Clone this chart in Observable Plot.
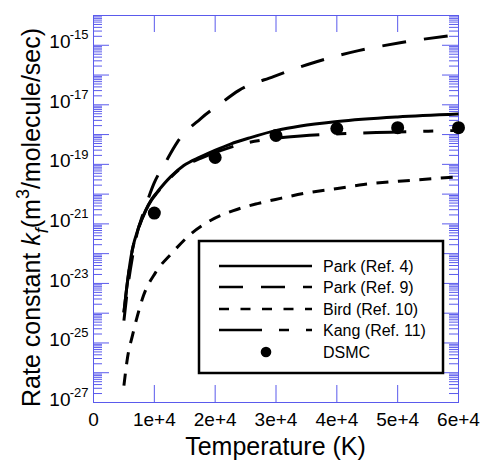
<!DOCTYPE html>
<html><head><meta charset="utf-8">
<script src="https://cdn.jsdelivr.net/npm/d3@7"></script>
<script src="https://cdn.jsdelivr.net/npm/@observablehq/plot@0.6"></script>
<style>
body{margin:0;background:#fff}
svg{font-family:"Liberation Sans",Arial,sans-serif}
</style>
</head><body><div id="chart"></div>
<script>
// ---- data ----
const parkRef4 = [[5000,1.07e-24],[5540,9.8e-24],[6360,1.29e-22],[7450,7.8e-22],[8550,2.8e-21],[9530,6.6e-21],[10470,1.17e-20],[12660,3.8e-20],[14840,9.1e-20],[17590,1.78e-19],[20050,3.0e-19],[22520,4.8e-19],[25810,7.9e-19],[30250,1.41e-18],[34030,1.95e-18],[40110,2.75e-18],[49970,3.9e-18],[60000,4.9e-18]];
const parkRef9 = [[5000,5.6e-25],[5590,6.3e-24],[6410,7.9e-23],[7230,5.5e-22],[8060,1.9e-21],[8880,6.0e-21],[9910,2.2e-20],[11840,1.17e-19],[13760,5.5e-19],[17590,3.4e-18],[20880,1.1e-17],[23840,3.0e-17],[29590,8.9e-17],[36660,2.8e-16],[43560,6.6e-16],[50630,1.23e-15],[60000,2.3e-15]];
const birdRef10 = [[5000,3.7e-27],[5590,3.2e-26],[6410,1.8e-25],[7230,8.3e-25],[8220,3.9e-24],[10190,2.3e-23],[12990,1.1e-22],[15950,4.5e-22],[19230,1.3e-21],[23010,2.8e-21],[26960,4.8e-21],[30740,7.2e-21],[34520,1.05e-20],[40110,1.55e-20],[44390,2.1e-20],[52110,2.9e-20],[60000,3.8e-20]];
const kangRef11 = [[5000,1.07e-24],[5540,9.5e-24],[6360,1.25e-22],[7450,7.5e-22],[8550,2.7e-21],[9530,6.3e-21],[10470,1.12e-20],[12660,3.6e-20],[14840,8.7e-20],[17590,1.58e-19],[20880,2.9e-19],[24160,4.7e-19],[29100,7.1e-19],[34030,8.9e-19],[40600,1.07e-18],[48820,1.2e-18],[60000,1.38e-18]];
const dsmcT = [10000,20000,30000,40000,50000,60000];
const dsmcK = [2.3e-21,1.7e-19,9.3e-19,1.6e-18,1.7e-18,1.7e-18];

const seriesNames = ["Park (Ref. 4)","Park (Ref. 9)","Bird (Ref. 10)","Kang (Ref. 11)","DSMC"];
const xTickValues = [10000,20000,30000,40000,50000];
const xTickLabels = ["0","1e+4","2e+4","3e+4","4e+4","5e+4","6e+4"];
const xLabelValues = [0,10000,20000,30000,40000,50000,60000];
const yDecadeExps = [-27,-26,-25,-24,-23,-22,-21,-20,-19,-18,-17,-16,-15,-14];
const yLabelExps = [-27,-25,-23,-21,-19,-17,-15];
const minorMultipliers = [2,3,4,5,6,7,8,9];
const xTitle = "Temperature (K)";

// ---- layout ----
const W = 488, H = 463, mL = 93, mR = 30, mT = 15, mB = 61;
const plotW = W - mL - mR, plotH = H - mT - mB;
const blue = "#5a5aec";
const font = "Liberation Sans, Arial, sans-serif";

const majorY = yDecadeExps.map(e => 10 ** e);
const minorY = yDecadeExps.slice(0, -1).flatMap(e => minorMultipliers.map(m => m * 10 ** e));
const toRows = (arr) => arr.map(([T, k]) => ({T, k}));
const dsmc = dsmcT.map((T, i) => ({T, k: dsmcK[i]}));

const lineOpts = {x: "T", y: "k", stroke: "black", strokeWidth: 3, curve: "monotone-x", strokeLinecap: "butt"};

const chart = Plot.plot({
  width: W, height: H,
  marginLeft: mL, marginRight: mR, marginTop: mT, marginBottom: mB,
  style: {fontFamily: font, background: "white"},
  x: {domain: [0, 60000], axis: null},
  y: {type: "log", domain: [1e-27, 1e-14], axis: null},
  marks: [
    Plot.tickX(xTickValues, {x: d => d, stroke: blue, strokeWidth: 1, insetTop: plotH - 17}),
    Plot.tickX(xTickValues, {x: d => d, stroke: blue, strokeWidth: 1, insetBottom: plotH - 17}),
    Plot.tickY(majorY, {y: d => d, stroke: blue, strokeWidth: 1, insetRight: plotW - 16}),
    Plot.tickY(majorY, {y: d => d, stroke: blue, strokeWidth: 1, insetLeft: plotW - 16}),
    Plot.tickY(minorY, {y: d => d, stroke: blue, strokeWidth: 1, insetRight: plotW - 9}),
    Plot.tickY(minorY, {y: d => d, stroke: blue, strokeWidth: 1, insetLeft: plotW - 9}),
    Plot.frame({stroke: blue, strokeWidth: 1}),
    Plot.text(xLabelValues, {x: d => d, frameAnchor: "bottom", dy: 23, text: (d, i) => xTickLabels[i], fontSize: 19, fill: "black"}),
    Plot.text(yLabelExps, {y: e => 10 ** e, frameAnchor: "left", dx: -23, dy: -3, textAnchor: "end", text: () => "10", fontSize: 19, fill: "black"}),
    Plot.text(yLabelExps, {y: e => 10 ** e, frameAnchor: "left", dx: -5, dy: -10, textAnchor: "end", text: e => String(e), fontSize: 13, fill: "black"}),
    Plot.line(toRows(birdRef10), {...lineOpts, strokeDasharray: "12,9.5"}),
    Plot.line(toRows(parkRef9), {...lineOpts, strokeDasharray: "24,18"}),
    Plot.line(toRows(kangRef11), {...lineOpts, strokeDasharray: "43,17,10,17"}),
    Plot.line(toRows(parkRef4), {...lineOpts}),
    Plot.dot(dsmc, {x: "T", y: "k", r: 6.5, fill: "black", stroke: "none"})
  ]
});
document.getElementById("chart").appendChild(chart);

const svg = d3.select(chart);
svg.append("text").attr("x", mL + plotW / 2).attr("y", 455).attr("text-anchor", "middle")
  .attr("font-size", 25).attr("font-family", font).attr("fill", "black").text(xTitle);
const yt = svg.append("text").attr("transform", `translate(40,407) rotate(-90)`)
  .attr("text-anchor", "start")
  .attr("font-size", 25).attr("font-family", font).attr("fill", "black");
yt.append("tspan").text("Rate constant ");
yt.append("tspan").attr("font-style", "italic").text("k");
yt.append("tspan").attr("font-style", "italic").attr("font-size", 18).attr("dy", 8).text("f");
yt.append("tspan").attr("dy", -8).text("(m");
yt.append("tspan").attr("font-size", 18).attr("dy", -11).text("3");
yt.append("tspan").attr("dy", 11).text("/molecule/sec)");

const leg = svg.append("g");
leg.append("rect").attr("x", 199).attr("y", 241).attr("width", 244).attr("height", 132)
  .attr("fill", "white").attr("stroke", "black").attr("stroke-width", 2.5);
const legDash = [null, "24,18", "10,11.5", "43,17,10,17"];
const rowY = [266, 287, 309, 330, 352];
seriesNames.forEach((name, i) => {
  if (i < 4) {
    const l = leg.append("line").attr("x1", 219).attr("x2", 312).attr("y1", rowY[i]).attr("y2", rowY[i])
      .attr("stroke", "black").attr("stroke-width", 2.5);
    if (legDash[i]) l.attr("stroke-dasharray", legDash[i]);
  } else {
    leg.append("circle").attr("cx", 266).attr("cy", rowY[i]).attr("r", 5.3).attr("fill", "black");
  }
  leg.append("text").attr("x", 323).attr("y", rowY[i] + 5.5).attr("text-anchor", "start").attr("font-size", 16)
    .attr("font-family", font).attr("fill", "black").text(name);
});
</script>
</body></html>
